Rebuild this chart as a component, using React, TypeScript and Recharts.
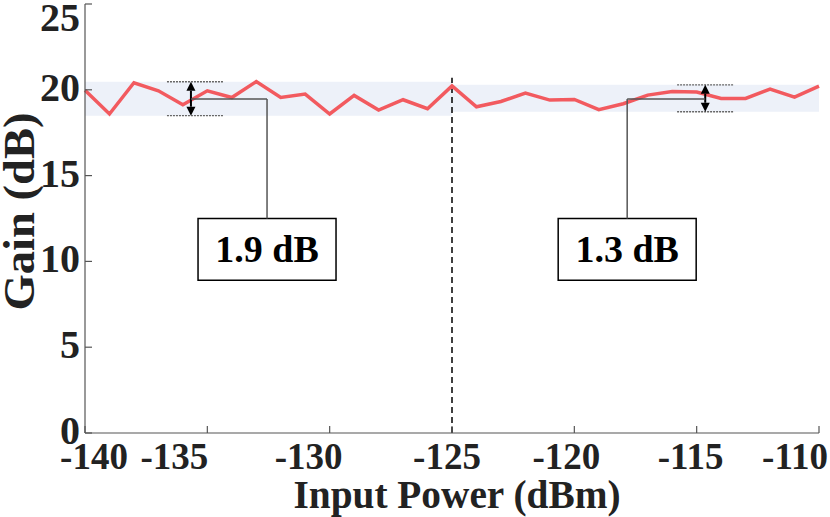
import {
  ComposedChart,
  Line,
  XAxis,
  YAxis,
  ReferenceArea,
  ReferenceLine,
} from 'recharts';

const inputPower = [
  -140, -139, -138, -137, -136, -135, -134, -133, -132, -131, -130,
  -129, -128, -127, -126, -125, -124, -123, -122, -121, -120,
  -119, -118, -117, -116, -115, -114, -113, -112, -111, -110,
];
const gain = [
  19.98, 18.59, 20.41, 19.94, 19.13, 19.94, 19.55, 20.48, 19.55, 19.75, 18.59,
  19.67, 18.82, 19.42, 18.9, 20.23, 19.01, 19.32, 19.81, 19.4, 19.44,
  18.84, 19.19, 19.69, 19.9, 19.87, 19.5, 19.5, 20.04, 19.57, 20.21,
];

const xTicks = [-140, -135, -130, -125, -120, -115, -110];
const yTicks = [0, 5, 10, 15, 20, 25];

// gain ripple bands on each side of the -125 dBm divider
const bandFrom = [-140, -125];
const bandTo = [-125, -110];
const bandLow = [18.49, 18.72];
const bandHigh = [20.47, 20.29];

// double arrows and their callouts
const arrowAt = [-135.67, -114.65];
const arrowTickFrom = [-136.65, -115.8];
const arrowTickTo = [-134.36, -113.47];
const calloutText = ['1.9 dB', '1.3 dB'];
const calloutLevel = [19.46, 19.46];
const calloutElbow = [-132.56, -117.84];
const boxLeft = [-135.38, -120.66];
const boxRight = [-129.74, -115.02];
const boxBottom = 8.9;
const boxTop = 12.5;

const divider = -125;
const dividerTop = 20.7;

const data = inputPower.map((p, i) => ({ p, g: gain[i] }));

const FONT = '"Liberation Serif", "Times New Roman", serif';
const AXIS = '#555';
const TICK = 7;

// the original tick labels sit a little off their ticks
const labelNudge: Record<number, number> = {
  [-140]: 9, [-135]: -33, [-130]: -21, [-125]: -5, [-120]: -8, [-115]: -6, [-110]: -24,
};

const BottomTick = (props: any) => {
  const { x, y, payload } = props;
  const v = payload.value;
  return (
    <g>
      <line x1={x} y1={y} x2={x} y2={y - TICK} stroke={AXIS} strokeWidth={1.2} />
      <text
        x={x + (labelNudge[v] ?? 0)}
        y={y + 36}
        textAnchor="middle"
        fontFamily={FONT}
        fontWeight="bold"
        fontSize={37}
        fill="#222"
      >
        {v}
      </text>
    </g>
  );
};

const TopTick = (props: any) => (
  <line x1={props.x} y1={props.y} x2={props.x} y2={props.y + TICK} stroke={AXIS} strokeWidth={1.2} />
);

const LeftTick = (props: any) => {
  const { x, y, payload } = props;
  return (
    <g>
      <line x1={x} y1={y} x2={x + TICK} y2={y} stroke={AXIS} strokeWidth={1.2} />
      <text
        x={x - 5}
        y={Math.max(y + 11, 31)}
        textAnchor="end"
        fontFamily={FONT}
        fontWeight="bold"
        fontSize={40}
        fill="#222"
      >
        {payload.value}
      </text>
    </g>
  );
};

const RightTick = (props: any) => (
  <line x1={props.x} y1={props.y} x2={props.x - TICK} y2={props.y} stroke={AXIS} strokeWidth={1.2} />
);

const DoubleArrow = (props: any) => {
  const { x1, y1, y2 } = props;
  const top = Math.min(y1, y2);
  const bot = Math.max(y1, y2);
  const h = 9;
  const w = 4.5;
  return (
    <g>
      <line x1={x1} y1={top + h} x2={x1} y2={bot - h} stroke="#000" strokeWidth={2} />
      <polygon points={`${x1},${top} ${x1 - w},${top + h} ${x1 + w},${top + h}`} fill="#000" />
      <polygon points={`${x1},${bot} ${x1 - w},${bot - h} ${x1 + w},${bot - h}`} fill="#000" />
    </g>
  );
};

const BoxLabel = (text: string) => (props: any) => {
  const vb = props.viewBox;
  return (
    <text
      x={vb.x + vb.width / 2}
      y={vb.y + vb.height / 2 + 13}
      textAnchor="middle"
      fontFamily={FONT}
      fontWeight="bold"
      fontSize={38}
      fill="#000"
    >
      {text}
    </text>
  );
};

export default function App() {
  return (
    <div style={{ position: 'absolute', left: 0, top: 0 }}>
      <ComposedChart
        width={830}
        height={517}
        data={data}
        margin={{ top: 4, right: 11, bottom: 0, left: 0 }}
      >
        {bandFrom.map((x1, i) => (
          <ReferenceArea
            key={`band${i}`}
            xAxisId="b"
            yAxisId="l"
            x1={x1}
            x2={bandTo[i]}
            y1={bandLow[i]}
            y2={bandHigh[i]}
            fill="#EDF1F9"
            fillOpacity={1}
            stroke="none"
          />
        ))}

        <XAxis
          xAxisId="b"
          dataKey="p"
          type="number"
          domain={[-140, -110]}
          ticks={xTicks}
          interval={0}
          height={84}
          tickSize={0}
          tickMargin={0}
          tickLine={false}
          axisLine={{ stroke: AXIS, strokeWidth: 1.2 }}
          tick={(p: any) => <BottomTick {...p} />}
          label={{
            content: (p: any) => (
              <text
                x={p.viewBox.x + p.viewBox.width / 2 + 5}
                y={p.viewBox.y + 75}
                textAnchor="middle"
                fontFamily={FONT}
                fontWeight="bold"
                fontSize={40}
                textLength={327}
                lengthAdjust="spacingAndGlyphs"
                fill="#222"
              >
                Input Power (dBm)
              </text>
            ),
          }}
        />
        <XAxis
          xAxisId="t"
          orientation="top"
          dataKey="p"
          type="number"
          domain={[-140, -110]}
          ticks={xTicks}
          interval={0}
          height={0}
          tickSize={0}
          tickMargin={0}
          tickLine={false}
          axisLine={{ stroke: AXIS, strokeWidth: 1.2 }}
          tick={(p: any) => <TopTick {...p} />}
        />
        <YAxis
          yAxisId="l"
          type="number"
          domain={[0, 25]}
          ticks={yTicks}
          interval={0}
          width={85}
          tickSize={0}
          tickMargin={0}
          tickLine={false}
          axisLine={{ stroke: AXIS, strokeWidth: 1.2 }}
          tick={(p: any) => <LeftTick {...p} />}
          label={{
            content: (p: any) => {
              const cx = 20;
              const cy = p.viewBox.y + p.viewBox.height / 2 - 7;
              return (
                <text
                  x={cx}
                  y={cy}
                  transform={`rotate(-90 ${cx} ${cy})`}
                  dy={14}
                  textAnchor="middle"
                  fontFamily={FONT}
                  fontWeight="bold"
                  fontSize={44}
                  textLength={198}
                  lengthAdjust="spacingAndGlyphs"
                  fill="#222"
                >
                  Gain (dB)
                </text>
              );
            },
          }}
        />
        <YAxis
          yAxisId="r"
          orientation="right"
          type="number"
          domain={[0, 25]}
          ticks={yTicks}
          interval={0}
          width={0}
          tickSize={0}
          tickMargin={0}
          tickLine={false}
          axisLine={{ stroke: AXIS, strokeWidth: 1.2 }}
          tick={(p: any) => <RightTick {...p} />}
        />

        <ReferenceLine
          xAxisId="b"
          yAxisId="l"
          segment={[{ x: divider, y: 0 }, { x: divider, y: dividerTop }]}
          stroke="#000"
          strokeWidth={1.5}
          strokeDasharray="6 4"
        />

        <Line
          xAxisId="b"
          yAxisId="l"
          type="linear"
          dataKey="g"
          stroke="#F25A5F"
          strokeWidth={3.5}
          dot={false}
          isAnimationActive={false}
        />

        {arrowAt.map((ax, i) => [
          <ReferenceLine
            key={`hi${i}`}
            xAxisId="b"
            yAxisId="l"
            segment={[{ x: arrowTickFrom[i], y: bandHigh[i] }, { x: arrowTickTo[i], y: bandHigh[i] }]}
            stroke="#666"
            strokeWidth={1.3}
            strokeDasharray="2 1"
          />,
          <ReferenceLine
            key={`lo${i}`}
            xAxisId="b"
            yAxisId="l"
            segment={[{ x: arrowTickFrom[i], y: bandLow[i] }, { x: arrowTickTo[i], y: bandLow[i] }]}
            stroke="#666"
            strokeWidth={1.3}
            strokeDasharray="2 1"
          />,
          <ReferenceLine
            key={`arr${i}`}
            xAxisId="b"
            yAxisId="l"
            segment={[{ x: ax, y: bandHigh[i] }, { x: ax, y: bandLow[i] }]}
            shape={(p: any) => <DoubleArrow {...p} />}
          />,
          <ReferenceLine
            key={`ch${i}`}
            xAxisId="b"
            yAxisId="l"
            segment={[{ x: ax, y: calloutLevel[i] }, { x: calloutElbow[i], y: calloutLevel[i] }]}
            stroke="#555"
            strokeWidth={1.5}
          />,
          <ReferenceLine
            key={`cv${i}`}
            xAxisId="b"
            yAxisId="l"
            segment={[{ x: calloutElbow[i], y: calloutLevel[i] }, { x: calloutElbow[i], y: boxTop }]}
            stroke="#555"
            strokeWidth={1.5}
          />,
          <ReferenceArea
            key={`box${i}`}
            xAxisId="b"
            yAxisId="l"
            x1={boxLeft[i]}
            x2={boxRight[i]}
            y1={boxBottom}
            y2={boxTop}
            fill="#fff"
            fillOpacity={1}
            stroke="#000"
            strokeWidth={1.5}
            label={{ content: BoxLabel(calloutText[i]) }}
          />,
        ])}
      </ComposedChart>
    </div>
  );
}
